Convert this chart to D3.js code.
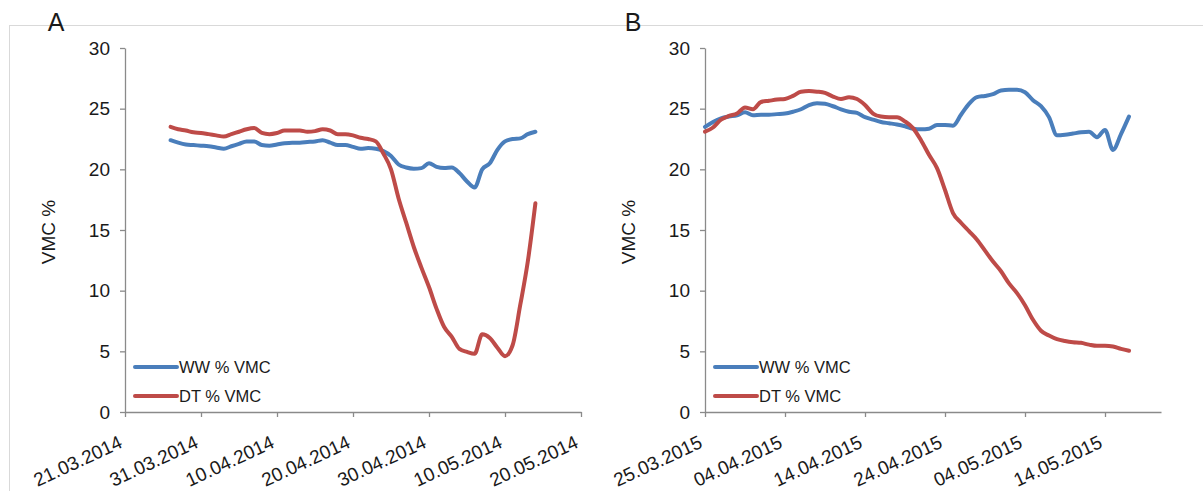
<!DOCTYPE html>
<html>
<head>
<meta charset="utf-8">
<script src="https://cdn.jsdelivr.net/npm/d3@7"></script>
<style>
  html, body { margin: 0; padding: 0; background: #fff; }
  svg { display: block; }
  text { font-family: "Liberation Sans", Arial, sans-serif; fill: #1a1a1a; }
</style>
</head>
<body>
<svg id="chart" width="1203" height="491"></svg>
<script>
// ---- data -------------------------------------------------------------
const seriesNames  = ["WW % VMC", "DT % VMC"];
const seriesColors = ["#4a7ebb", "#be4b48"];
const yTicks = [0, 5, 10, 15, 20, 25, 30];

// Panel A (2014): daily readings starting on firstDayA
const axisRangeA  = ["21.03.2014", "20.05.2014"];
const tickLabelsA = ["21.03.2014", "31.03.2014", "10.04.2014", "20.04.2014",
                     "30.04.2014", "10.05.2014", "20.05.2014"];
const firstDayA = "27.03.2014";
const wwA = [22.4, 22.2, 22.05, 22.0, 21.95, 21.9, 21.8, 21.7, 21.9, 22.1,
             22.3, 22.3, 22.0, 21.95, 22.05, 22.15, 22.2, 22.2, 22.25, 22.3,
             22.4, 22.2, 22.0, 22.0, 21.85, 21.7, 21.75, 21.7, 21.5, 21.1,
             20.4, 20.15, 20.05, 20.1, 20.5, 20.2, 20.1, 20.15, 19.7, 19.0,
             18.5, 20.0, 20.5, 21.6, 22.3, 22.5, 22.55, 22.9, 23.1];
const dtA = [23.5, 23.3, 23.2, 23.05, 23.0, 22.9, 22.8, 22.7, 22.9, 23.1,
             23.3, 23.4, 23.0, 22.9, 23.0, 23.2, 23.2, 23.2, 23.1, 23.15,
             23.3, 23.2, 22.9, 22.9, 22.8, 22.6, 22.5, 22.3, 21.3, 20.0,
             17.6, 15.6, 13.6, 11.9, 10.3, 8.5, 7.0, 6.2, 5.2, 4.95,
             4.8, 6.4, 6.1, 5.3, 4.6, 5.5, 8.8, 12.4, 17.2];

// Panel B (2015): daily readings starting on firstDayB
const axisRangeB  = ["25.03.2015", "21.05.2015"];
const tickLabelsB = ["25.03.2015", "04.04.2015", "14.04.2015", "24.04.2015",
                     "04.05.2015", "14.05.2015"];
const firstDayB = "25.03.2015";
const wwB = [23.5, 23.9, 24.2, 24.35, 24.45, 24.7, 24.45, 24.5, 24.5, 24.55,
             24.6, 24.75, 24.95, 25.3, 25.45, 25.4, 25.2, 24.95, 24.75, 24.65,
             24.3, 24.1, 23.9, 23.8, 23.7, 23.55, 23.35, 23.3, 23.35, 23.65,
             23.65, 23.6, 24.5, 25.4, 25.95, 26.05, 26.2, 26.5, 26.55, 26.55,
             26.35, 25.7, 25.2, 24.3, 22.8, 22.85, 22.95, 23.05, 23.1, 22.65,
             23.25, 21.6, 22.9, 24.35];
const dtB = [23.1, 23.45, 24.1, 24.4, 24.6, 25.1, 24.95, 25.55, 25.65, 25.75,
             25.8, 26.05, 26.4, 26.45, 26.4, 26.3, 26.0, 25.8, 25.95, 25.8,
             25.3, 24.6, 24.35, 24.3, 24.3, 23.95, 23.4, 22.4, 21.2, 20.1,
             18.3, 16.4, 15.6, 14.9, 14.2, 13.3, 12.4, 11.6, 10.6, 9.8,
             8.8, 7.6, 6.7, 6.3, 6.0, 5.85, 5.75, 5.7, 5.55, 5.45,
             5.45, 5.4, 5.2, 5.05];

// ---- drawing ----------------------------------------------------------
const parseDate  = d3.utcParse("%d.%m.%Y");
const formatDate = d3.utcFormat("%d.%m.%Y");
const svg = d3.select("#chart");

svg.append("rect").attr("width", 1203).attr("height", 491).attr("fill", "#fff");

// outer chart frame (runs off the right and bottom edges)
svg.append("rect")
  .attr("x", 9.5).attr("y", 25.5).attr("width", 1400).attr("height", 600)
  .attr("fill", "none").attr("stroke", "#d9d9d9").attr("stroke-width", 1);

const plotTop = 48, plotBottom = 412, plotWidth = 456;
const axisColor = "#8a8a8a";
const fontStack = "'Liberation Sans', Arial, sans-serif";

function drawPanel(p) {
  const g = svg.append("g");
  const x = d3.scaleUtc()
    .domain(p.range.map(parseDate))
    .range([p.left, p.left + plotWidth]);
  const y = d3.scaleLinear().domain([0, 30]).range([plotBottom, plotTop]);

  // panel letter
  g.append("text").attr("x", p.letterX).attr("y", 31)
    .attr("text-anchor", "middle").style("font-size", "25px").text(p.letter);

  // y axis
  const ya = g.append("g").attr("transform", `translate(${p.left},0)`)
    .call(d3.axisLeft(y).tickValues(yTicks).tickSize(5).tickSizeOuter(0).tickPadding(10));
  ya.select(".domain").attr("stroke", axisColor).attr("stroke-width", 1.3);
  ya.selectAll(".tick line").attr("stroke", axisColor).attr("stroke-width", 1.3);
  ya.selectAll("text").style("font-size", "19px").attr("fill", "#1a1a1a")
    .style("font-family", fontStack);

  // x axis
  const xa = g.append("g").attr("transform", `translate(0,${plotBottom})`)
    .call(d3.axisBottom(x).tickValues(p.ticks.map(parseDate))
      .tickFormat(formatDate).tickSize(5).tickSizeOuter(0));
  xa.select(".domain").attr("stroke", axisColor).attr("stroke-width", 1.3);
  xa.selectAll(".tick line").attr("stroke", axisColor).attr("stroke-width", 1.3);
  xa.selectAll("text")
    .attr("x", -2).attr("y", 0).attr("dy", 0)
    .attr("text-anchor", "end")
    .attr("transform", "translate(0,34) rotate(-25)")
    .style("font-size", "19px").attr("fill", "#1a1a1a")
    .style("font-family", fontStack);

  // y axis title
  g.append("text")
    .attr("transform", `translate(${p.left - 70},${(plotTop + plotBottom) / 2 + 2}) rotate(-90)`)
    .attr("text-anchor", "middle").style("font-size", "19px").text("VMC %");

  // series
  const start = parseDate(p.first);
  const line = d3.line()
    .x(d => x(d.date)).y(d => y(d.v))
    .curve(d3.curveMonotoneX);
  [p.ww, p.dt].forEach((vals, k) => {
    const pts = vals.map((v, i) => ({ date: d3.utcDay.offset(start, i), v }));
    g.append("path").datum(pts)
      .attr("d", line)
      .attr("fill", "none")
      .attr("stroke", seriesColors[k])
      .attr("stroke-width", 4)
      .attr("stroke-linejoin", "round")
      .attr("stroke-linecap", "round");
  });

  // legend
  const legendRows = [367, 396];
  seriesNames.forEach((name, k) => {
    const ly = legendRows[k];
    g.append("line")
      .attr("x1", p.left + 10).attr("x2", p.left + 52)
      .attr("y1", ly).attr("y2", ly)
      .attr("stroke", seriesColors[k]).attr("stroke-width", 4)
      .attr("stroke-linecap", "round");
    g.append("text").attr("x", p.left + 54).attr("y", ly + 6)
      .style("font-size", "16.5px").text(name);
  });
}

drawPanel({ left: 125, letter: "A", letterX: 56, range: axisRangeA,
            ticks: tickLabelsA, first: firstDayA, ww: wwA, dt: dtA });
drawPanel({ left: 705, letter: "B", letterX: 633, range: axisRangeB,
            ticks: tickLabelsB, first: firstDayB, ww: wwB, dt: dtB });
</script>
</body>
</html>
